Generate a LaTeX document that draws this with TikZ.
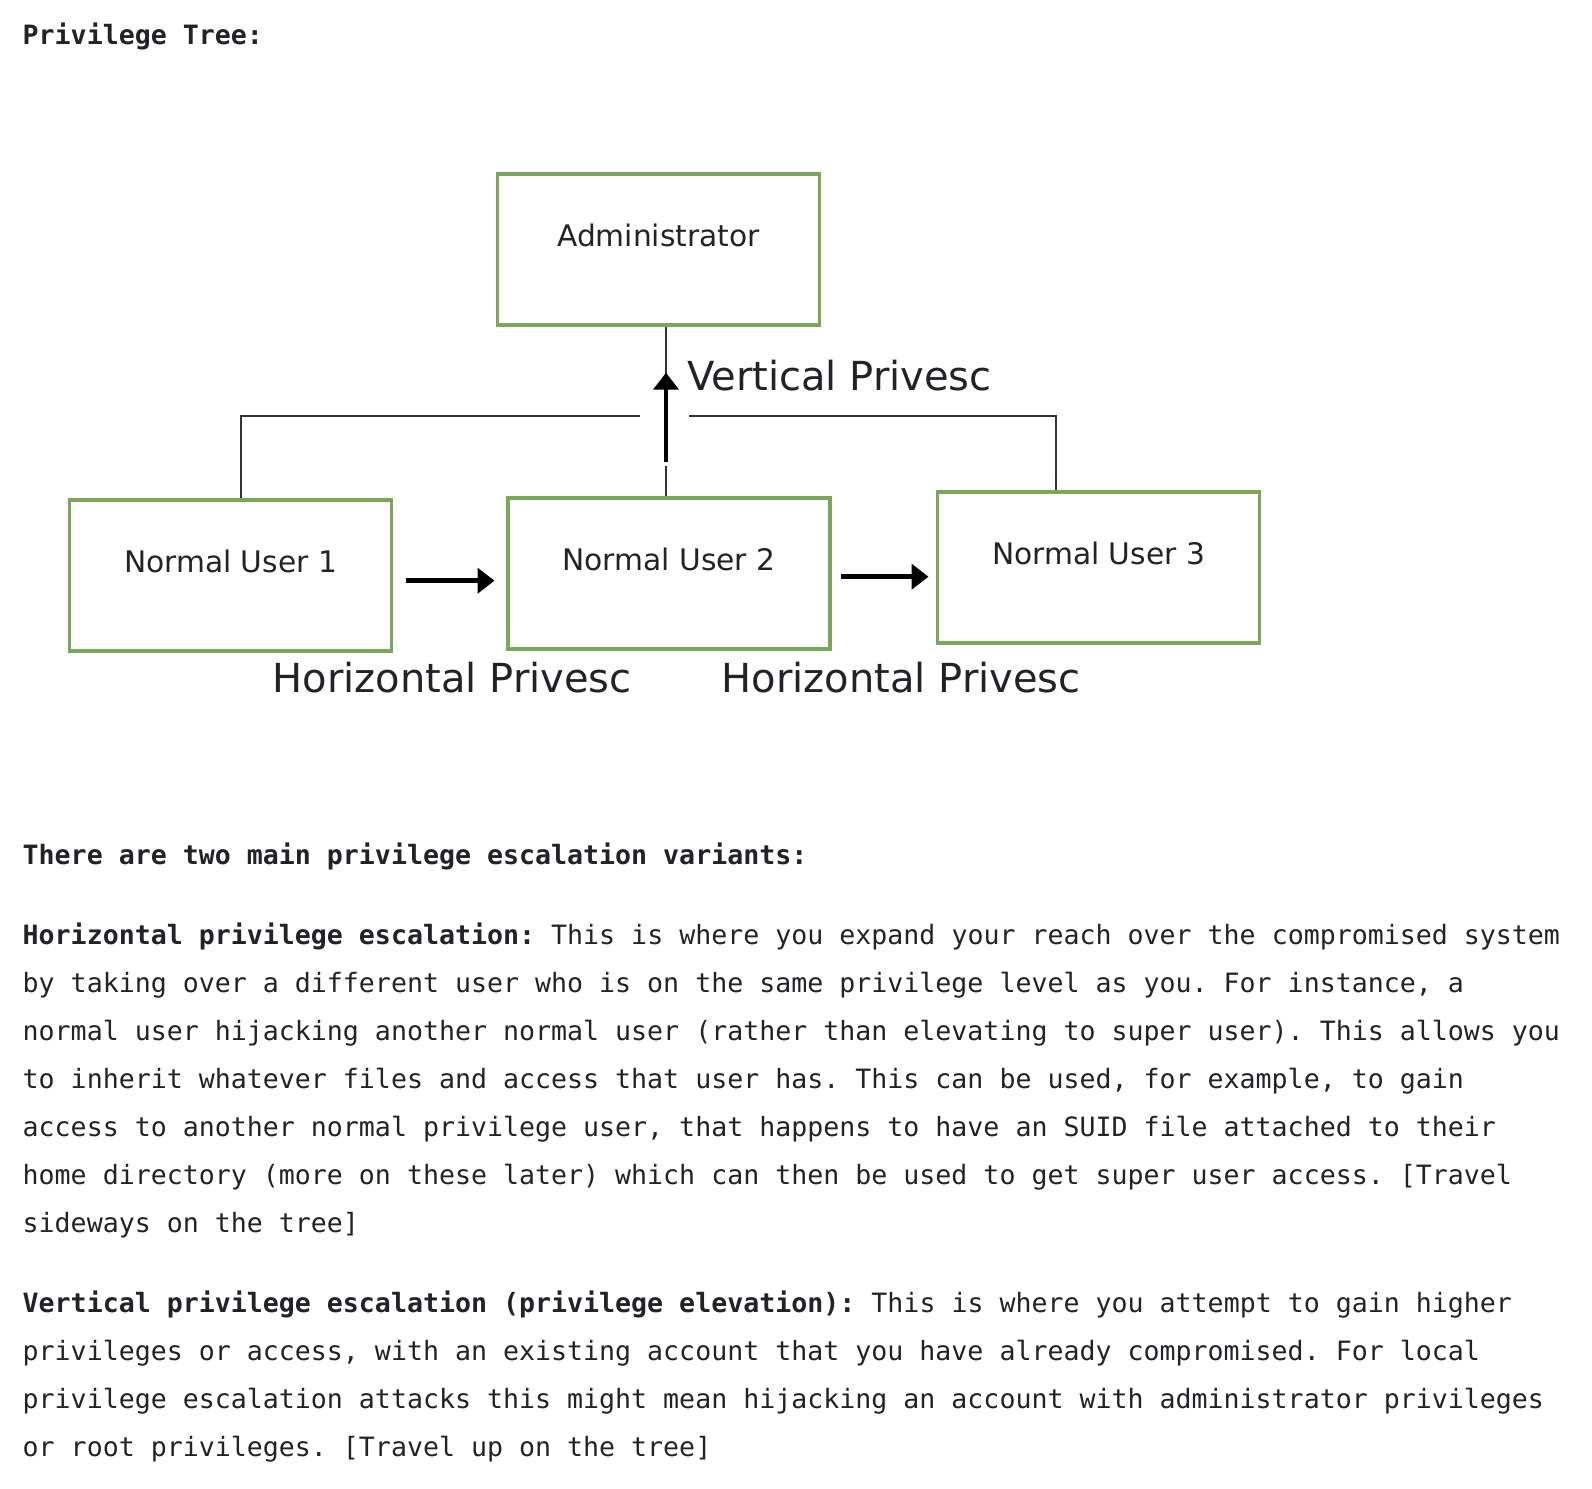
\documentclass[tikz,border=0pt]{standalone}
\usepackage{fontspec}
\usepackage{graphicx}
\usetikzlibrary{arrows.meta,calc}
\newfontfamily\diagfont{DejaVu Sans}
\newfontfamily\monofont{DejaVu Sans Mono}
\definecolor{boxgreen}{HTML}{7BA858}
\definecolor{txt}{HTML}{222326}
\definecolor{thinline}{HTML}{333333}
\begin{document}
\begin{tikzpicture}[x=1pt,y=-1pt,
  userbox/.style={draw=boxgreen,line width=3.5pt,minimum width=322pt,minimum height=151pt,
    inner sep=0pt,text height=22pt,text depth=28pt,font=\diagfont\fontsize{29.7}{34}\selectfont,text=txt},
  thinconn/.style={draw=thinline,line width=1.5pt},
  bigarrow/.style={draw=black,line width=4.8pt,-{Triangle[length=17pt,width=25pt]}},
  difflabel/.style={anchor=base west,inner sep=0pt,font=\diagfont\fontsize{40}{46}\selectfont,text=txt},
  bodytext/.style={anchor=base west,inner sep=0pt,align=left,text=txt,
    font=\monofont\fontsize{26.6}{48}\selectfont\frenchspacing}
]
\useasboundingbox (0,0) rectangle (1592,1488);
\fill[white] (0,0) rectangle (1592,1488);

% heading
\node[bodytext] (title) at (22.5,45) {\textbf{Privilege Tree:}};

% boxes
\node[userbox] (admin) at (658.5,249.7) {Administrator};
\node[userbox] (nu1) at (230.5,575.7) {Normal User 1};
\node[userbox] (nu2) at (669,573.7) {Normal User 2};
\node[userbox] (nu3) at (1098.5,567.5) {Normal User 3};

% tree connectors
\coordinate (lh) at (639.6,416);
\coordinate (lc) at (241,416);
\coordinate (rh) at (689,416);
\coordinate (rc) at (1056,416);
\draw[thinconn] (lh) -- (lc) -- (lc |- nu1.north);
\draw[thinconn] (rh) -- (rc) -- (rc |- nu3.north);

% vertical privesc
\coordinate (vtip) at (666,372.7);
\coordinate (vbase) at (666,461.7);
\coordinate (vlow) at (666,465.5);
\draw[thinconn] (vtip |- admin.south) -- ($(vtip)+(0,4)$);
\draw[bigarrow] (vbase) -- (vtip);
\draw[thinconn] (vlow) -- (vlow |- nu2.north);
\node[difflabel] (vlab) at (687,390) {Vertical Privesc};

% horizontal privesc
\coordinate (h1s) at (406,580.7);
\coordinate (h1e) at (494.5,580.7);
\coordinate (h2s) at (840.5,576.7);
\coordinate (h2e) at (928.5,576.7);
\draw[bigarrow] (h1s) -- (h1e);
\draw[bigarrow] (h2s) -- (h2e);
\node[difflabel] (hlab1) at (272.5,692.5) {Horizontal Privesc};
\node[difflabel] (hlab2) at (721.5,692.5) {Horizontal Privesc};

% body text (base anchor = baseline of the last line)
\node[bodytext] (intro) at (22.5,864) {\textbf{There are two main privilege escalation variants:}};
\node[bodytext] (para1) at (22.5,1232) {\textbf{Horizontal privilege escalation:} This is where you expand your reach over the compromised system\\
by taking over a different user who is on the same privilege level as you. For instance, a\\
normal user hijacking another normal user (rather than elevating to super user). This allows you\\
to inherit whatever files and access that user has. This can be used, for example, to gain\\
access to another normal privilege user, that happens to have an SUID file attached to their\\
home directory (more on these later) which can then be used to get super user access. [Travel\\
sideways on the tree]};
\node[bodytext] (para2) at (22.5,1456.5) {\textbf{Vertical privilege escalation (privilege elevation):} This is where you attempt to gain higher\\
privileges or access, with an existing account that you have already compromised. For local\\
privilege escalation attacks this might mean hijacking an account with administrator privileges\\
or root privileges. [Travel up on the tree]};
\end{tikzpicture}
\end{document}
